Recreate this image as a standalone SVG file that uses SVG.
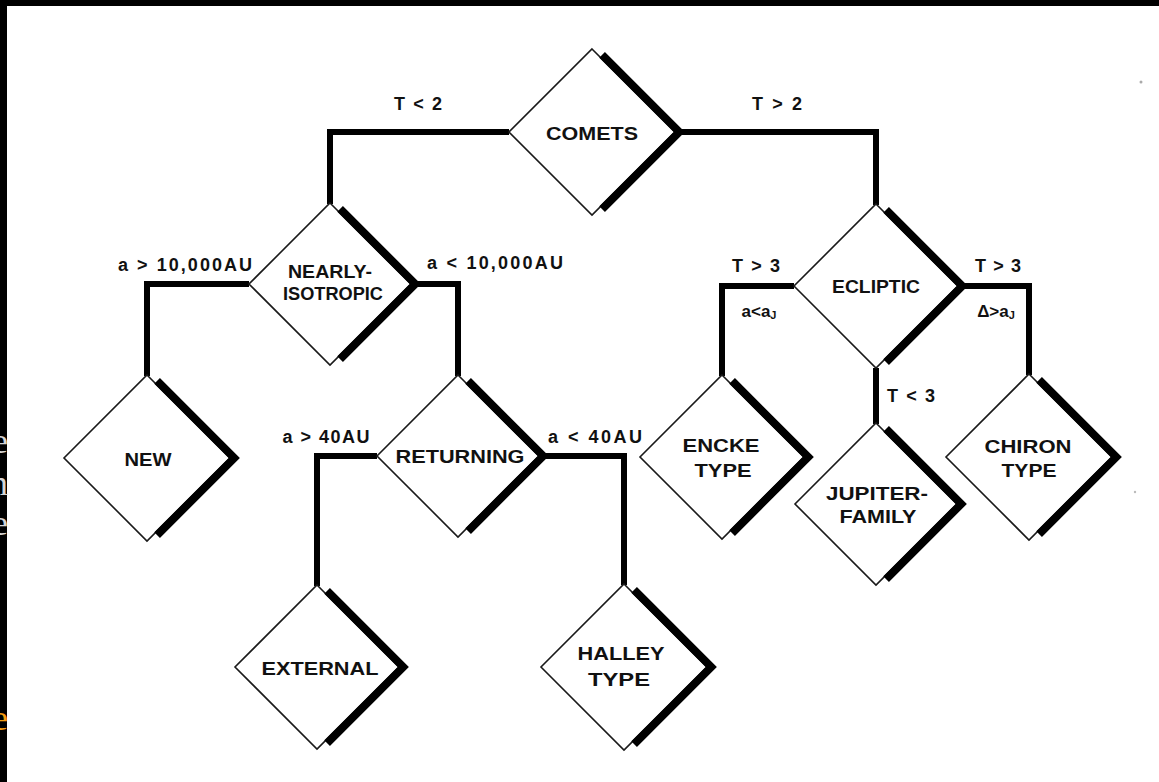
<svg xmlns="http://www.w3.org/2000/svg" width="1159" height="782" viewBox="0 0 1159 782">
<style>
.dia{fill:#fff;stroke:#1a1a1a;stroke-width:1.6;stroke-linejoin:miter}
.sh{fill:none;stroke:#000;stroke-width:8;stroke-linejoin:miter;stroke-linecap:butt}
.con{fill:none;stroke:#000;stroke-width:6;stroke-linejoin:miter;stroke-linecap:butt}
.nt{font-family:"Liberation Sans",Arial,Helvetica,sans-serif;font-weight:bold;font-size:18px;text-anchor:middle;fill:#111}
.lb{font-family:"Liberation Sans",Arial,Helvetica,sans-serif;font-weight:bold;font-size:18px;text-anchor:middle;fill:#111}
.sm{font-family:"Liberation Sans",Arial,Helvetica,sans-serif;font-weight:bold;font-size:17px;text-anchor:middle;fill:#111}
.frag{font-family:"Liberation Serif","Times New Roman",serif;font-size:36px;text-anchor:end}
</style>
<rect x="0" y="0" width="1159" height="782" fill="#fff"/>
<g id="frame">
<rect x="0" y="0" width="1159" height="6" fill="#000"/>
<rect x="0" y="0" width="7" height="782" fill="#000"/>
<text class="frag" x="8" y="453" fill="#d4d4d4">e</text>
<text class="frag" x="8" y="495" fill="#d4d4d4">n</text>
<text class="frag" x="8" y="535" fill="#d4d4d4">e</text>
<text class="frag" x="8" y="730" fill="#f39c12">e</text>
<circle cx="1141" cy="82" r="1.5" fill="#aaa"/>
<circle cx="1135" cy="492" r="1.2" fill="#bbb"/>
</g>
<g id="connectors">
<path class="con" d="M509,132 H330 V204"/>
<path class="con" d="M675,132 H876 V205"/>
<path class="con" d="M249,284 H147 V376"/>
<path class="con" d="M411,284 H458 V376"/>
<path class="con" d="M377,456 H317 V586"/>
<path class="con" d="M539,456 H624 V585"/>
<path class="con" d="M794,286 H722 V376"/>
<path class="con" d="M958,286 H1029 V375"/>
<path class="con" d="M876,368 V424"/>
<text class="lb" x="418" y="110" textLength="48">T &lt; 2</text>
<text class="lb" x="777" y="110" textLength="50">T &gt; 2</text>
<text class="lb" x="185" y="271" textLength="134">a &gt; 10,000AU</text>
<text class="lb" x="495" y="269" textLength="136">a &lt; 10,000AU</text>
<text class="lb" x="756" y="272" textLength="48">T &gt; 3</text>
<text class="lb" x="998" y="272" textLength="46">T &gt; 3</text>
<text class="sm" x="759" y="317">a&lt;a<tspan font-size="11" dy="2">J</tspan></text>
<text class="sm" x="996" y="317">Δ&gt;a<tspan font-size="11" dy="2">J</tspan></text>
<text class="lb" x="911" y="402" textLength="48">T &lt; 3</text>
<text class="lb" x="326" y="443" textLength="87">a &gt; 40AU</text>
<text class="lb" x="595" y="443" textLength="94">a &lt; 40AU</text>
</g>
<g id="comets">
<polygon class="dia" points="592,49 675,132 592,215 509,132"/>
<polyline class="sh" points="602.1,54.9 679.2,132 602.1,209.1"/>
<text class="nt" x="592" y="140" textLength="92" lengthAdjust="spacingAndGlyphs">COMETS</text>
</g>
<g id="nearly-isotropic">
<polygon class="dia" points="330,203 411,284 330,365 249,284"/>
<polyline class="sh" points="340.1,208.9 415.2,284 340.1,359.1"/>
<text class="nt" x="330" y="278" textLength="84" lengthAdjust="spacingAndGlyphs">NEARLY-</text>
<text class="nt" x="333" y="300" textLength="100" lengthAdjust="spacingAndGlyphs">ISOTROPIC</text>
</g>
<g id="new">
<polygon class="dia" points="147,375 230,458 147,541 64,458"/>
<polyline class="sh" points="157.1,380.9 234.2,458 157.1,535.1"/>
<text class="nt" x="148" y="466" textLength="47" lengthAdjust="spacingAndGlyphs">NEW</text>
</g>
<g id="returning">
<polygon class="dia" points="458,375 539,456 458,537 377,456"/>
<polyline class="sh" points="468.1,380.9 543.2,456 468.1,531.1"/>
<text class="nt" x="460" y="463" textLength="129" lengthAdjust="spacingAndGlyphs">RETURNING</text>
</g>
<g id="external">
<polygon class="dia" points="317,585 399,667 317,749 235,667"/>
<polyline class="sh" points="327.1,590.9 403.2,667 327.1,743.1"/>
<text class="nt" x="320" y="675" textLength="117" lengthAdjust="spacingAndGlyphs">EXTERNAL</text>
</g>
<g id="halley-type">
<polygon class="dia" points="624,584 707,667 624,750 541,667"/>
<polyline class="sh" points="634.1,589.9 711.2,667 634.1,744.1"/>
<text class="nt" x="621" y="660" textLength="87" lengthAdjust="spacingAndGlyphs">HALLEY</text>
<text class="nt" x="619" y="686" textLength="62" lengthAdjust="spacingAndGlyphs">TYPE</text>
</g>
<g id="ecliptic">
<polygon class="dia" points="876,204 958,286 876,368 794,286"/>
<polyline class="sh" points="886.1,209.9 962.2,286 886.1,362.1"/>
<text class="nt" x="876" y="293" textLength="88" lengthAdjust="spacingAndGlyphs" font-size="16">ECLIPTIC</text>
</g>
<g id="encke-type">
<polygon class="dia" points="722,375 804,457 722,539 640,457"/>
<polyline class="sh" points="732.1,380.9 808.2,457 732.1,533.1"/>
<text class="nt" x="721" y="452" textLength="77" lengthAdjust="spacingAndGlyphs">ENCKE</text>
<text class="nt" x="723" y="477" textLength="57" lengthAdjust="spacingAndGlyphs">TYPE</text>
</g>
<g id="jupiter-family">
<polygon class="dia" points="876,423 957,504 876,585 795,504"/>
<polyline class="sh" points="886.1,428.9 961.2,504 886.1,579.1"/>
<text class="nt" x="877" y="500" textLength="102" lengthAdjust="spacingAndGlyphs">JUPITER-</text>
<text class="nt" x="878" y="523" textLength="77" lengthAdjust="spacingAndGlyphs">FAMILY</text>
</g>
<g id="chiron-type">
<polygon class="dia" points="1029,374 1112,457 1029,540 946,457"/>
<polyline class="sh" points="1039.1,379.9 1116.2,457 1039.1,534.1"/>
<text class="nt" x="1028" y="453" textLength="87" lengthAdjust="spacingAndGlyphs">CHIRON</text>
<text class="nt" x="1029" y="477" textLength="55" lengthAdjust="spacingAndGlyphs">TYPE</text>
</g>
</svg>
